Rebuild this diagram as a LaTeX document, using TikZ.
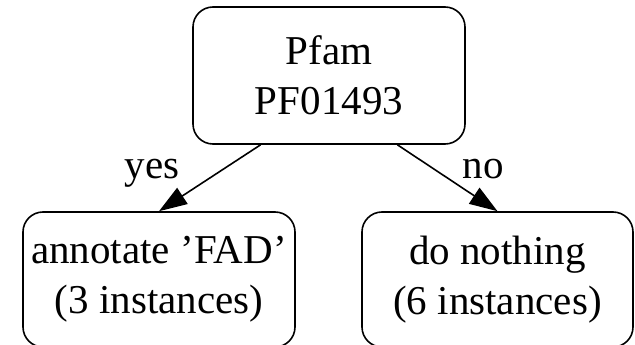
\documentclass[tikz,border=0pt]{standalone}
\usepackage{fontspec}
\setmainfont{Liberation Serif}
\usetikzlibrary{arrows.meta,calc}
\begin{document}
\begin{tikzpicture}[x=1pt,y=-1pt,
  box/.style={draw,line width=1.6pt,rounded corners=20pt,align=center,
    inner sep=0pt,font=\fontsize{41}{50}\selectfont},
  lbl/.style={anchor=base,inner sep=0pt,font=\fontsize{41}{50}\selectfont},
  conn/.style={line width=1.6pt,-{Triangle[length=28pt,width=19pt]}}]
\useasboundingbox (0,0) rectangle (635,345);
\node[box,minimum width=272pt,minimum height=137pt] (top) at (329,75.5) {Pfam\\PF01493};
\node[box,minimum width=272pt,minimum height=135pt] (yesbox) at (159,279.5) {annotate ’FAD’\\(3 instances)};
\node[box,minimum width=271pt,minimum height=135pt] (nobox) at (497.5,279.5) {do nothing\\(6 instances)};
\draw[conn] ($(top.south west)!0.25!(top.south east)$) -- (yesbox.north);
\draw[conn] ($(top.south west)!0.75!(top.south east)$) -- (nobox.north);
\node[lbl] (yeslbl) at (152,178) {yes};
\node[lbl] (nolbl) at (483,178) {no};
\end{tikzpicture}
\end{document}
